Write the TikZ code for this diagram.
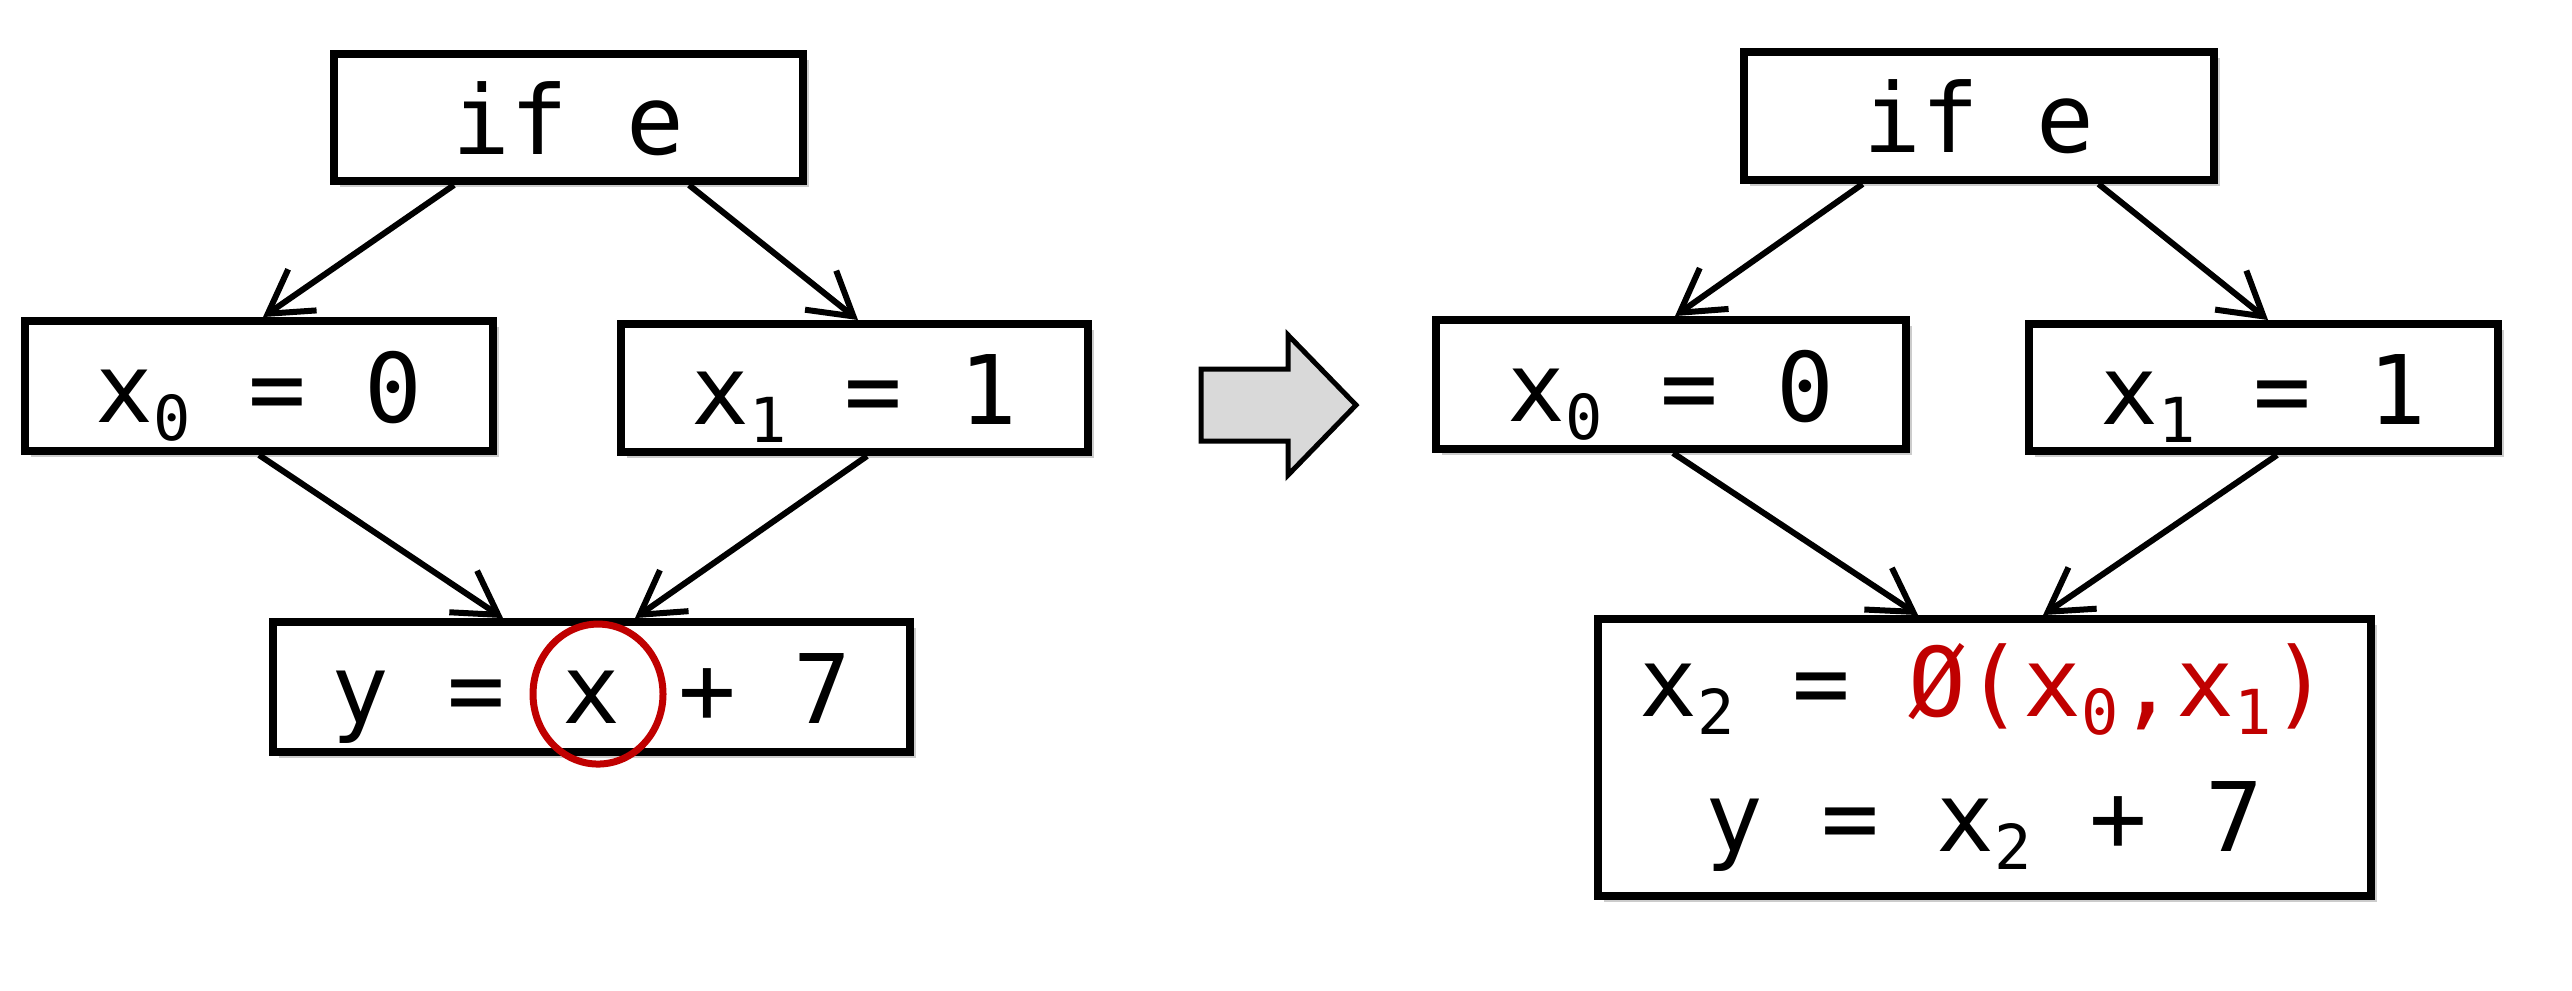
\documentclass[tikz,border=0pt]{standalone}
\usepackage{fontspec}
\newfontfamily\codefont{DejaVu Sans Mono}
\usetikzlibrary{arrows.meta,calc,shadows,shapes.geometric}
\definecolor{phired}{HTML}{C00000}
\definecolor{arrowgray}{HTML}{D9D9D9}
\newcommand\sbx[1]{\raisebox{-0.19em}{\fontsize{6.2}{7}\selectfont #1}}
\tikzset{
  cfgbox/.style={draw=black, line width=0.8pt, fill=white, inner sep=0pt,
    font={\codefont\fontsize{9.6}{13.5}\selectfont},
    drop shadow={shadow xshift=0.6pt, shadow yshift=-0.6pt, opacity=0.2, fill=black}},
  oneline/.style={text height=9.2pt, text depth=1.9pt},
  flow/.style={draw=black, line width=0.6pt, -{Straight Barb[length=4.2pt,width=5pt]}},
  mark circle/.style={draw=phired, line width=0.7pt, ellipse, inner sep=0pt},
  block arrow/.style={draw=black, fill=arrowgray, line width=0.5pt, line join=miter},
}
\begin{document}
\begin{tikzpicture}[x=0.1pt, y=-0.1pt]
\useasboundingbox (0,0) rectangle (2572,990);

% ---------- left CFG ----------
\node[cfgbox, oneline, minimum width=46.9pt, minimum height=12.7pt] (ifL) at (568.5,117.5) {if e};
\node[cfgbox, oneline, minimum width=46.8pt, minimum height=13.0pt] (x0L) at (259,386) {x\sbx{0} = 0};
\node[cfgbox, oneline, minimum width=46.7pt, minimum height=12.8pt] (x1L) at (854.5,388) {x\sbx{1} = 1};
\node[cfgbox, oneline, minimum width=63.7pt, minimum height=13.0pt] (yL) at (591.5,687) {y = x + 7};
\node[mark circle, minimum width=13.0pt, minimum height=14.0pt] (circ) at (598,694) {};

\draw[flow] ($(ifL.south)+(-114.5,0)$) -- ($(x0L.north)+(4,0)$);
\draw[flow] ($(ifL.south)+(120.5,0)$) -- ($(x1L.north)+(3.5,0)$);
\draw[flow] ($(x0L.south)+(0,0)$) -- ($(yL.north)+(-88.5,0)$);
\draw[flow] ($(x1L.south)+(12.5,0)$) -- ($(yL.north)+(43.5,0)$);

% ---------- transformation arrow ----------
\draw[block arrow] (1201,369) -- (1288,369) -- (1288,335) -- (1356,405)
  -- (1288,475) -- (1288,441) -- (1201,441) -- cycle;

% ---------- right CFG (SSA) ----------
\node[cfgbox, oneline, minimum width=47.0pt, minimum height=12.8pt] (ifR) at (1979,116) {if e};
\node[cfgbox, oneline, minimum width=47.0pt, minimum height=12.9pt] (x0R) at (1671,384.5) {x\sbx{0} = 0};
\node[cfgbox, oneline, minimum width=46.9pt, minimum height=12.7pt] (x1R) at (2263.5,387.5) {x\sbx{1} = 1};
\node[cfgbox, align=center, minimum width=77.3pt, minimum height=27.7pt] (bR) at (1984.5,757.5)
  {x\sbx{2} = {\color{phired}Ø(x\sbx{0},x\sbx{1})}\\ y = x\sbx{2} + 7};

\draw[flow] ($(ifR.south)+(-116.5,0)$) -- ($(x0R.north)+(4,0)$);
\draw[flow] ($(ifR.south)+(119.5,0)$) -- ($(x1R.north)+(4.5,0)$);
\draw[flow] ($(x0R.south)+(2,0)$) -- ($(bR.north)+(-66.5,0)$);
\draw[flow] ($(x1R.south)+(13.5,0)$) -- ($(bR.north)+(58.5,0)$);
\end{tikzpicture}
\end{document}
